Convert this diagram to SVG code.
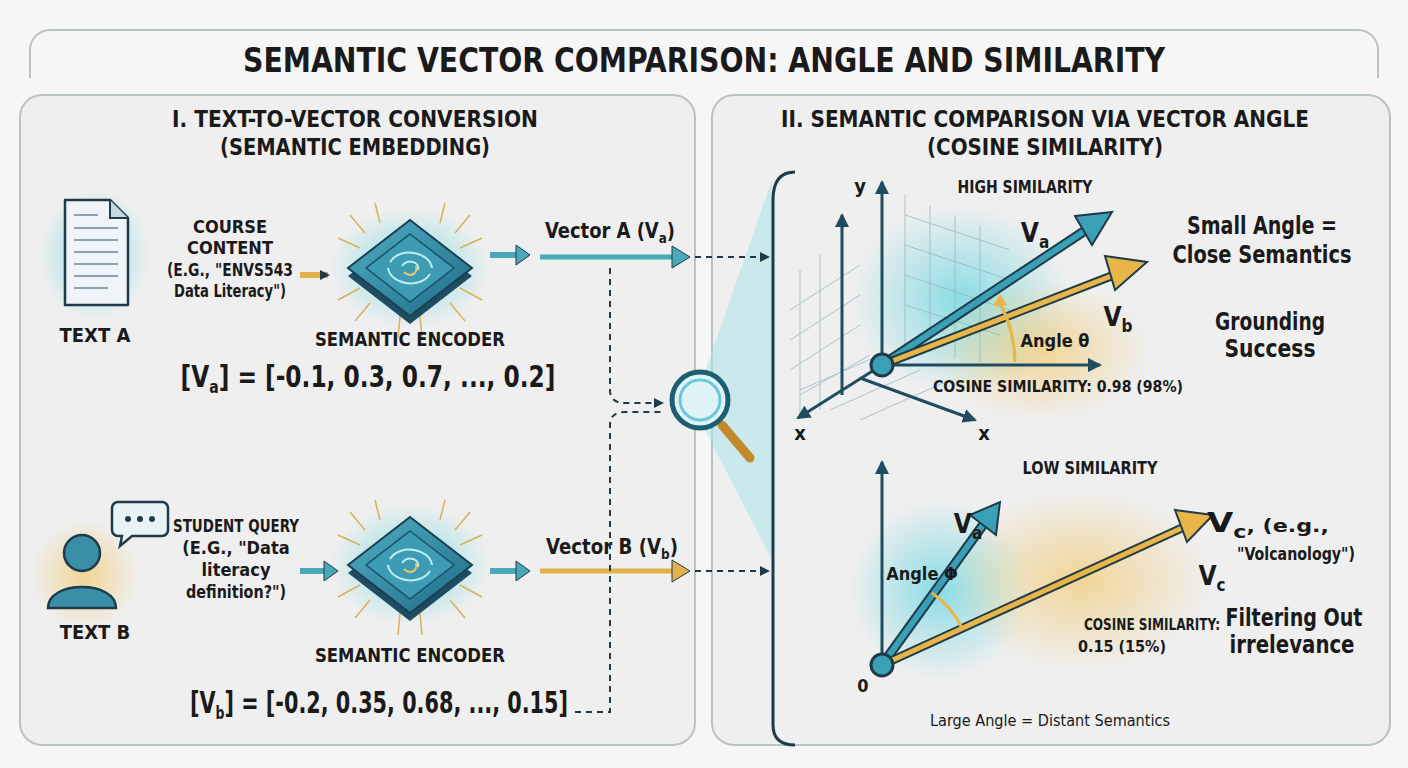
<svg xmlns="http://www.w3.org/2000/svg" width="1408" height="768" viewBox="0 0 1408 768">
<defs>
<style>
.t{font-family:"DejaVu Sans Condensed","Liberation Sans",sans-serif;font-weight:bold;fill:#1a1a1a;text-anchor:middle}
.n{font-family:"DejaVu Sans Condensed","Liberation Sans",sans-serif;fill:#1a1a1a;text-anchor:middle}
.panel{fill:#efefef;stroke:#b9c2c4;stroke-width:2}
.dash{fill:none;stroke:#1f3b4a;stroke-width:2;stroke-dasharray:6 5}
.ax{stroke:#1f4c5e;stroke-width:3;fill:none}
.grid{stroke:#8fb3bc;stroke-width:1;fill:none;opacity:.7}
</style>
<marker id="ah" markerWidth="10" markerHeight="10" refX="8" refY="5" orient="auto" markerUnits="userSpaceOnUse"><path d="M0,0 L10,5 L0,10 z" fill="#1f3b4a"/></marker>
<marker id="axh" markerWidth="16" markerHeight="14" refX="12" refY="7" orient="auto" markerUnits="userSpaceOnUse"><path d="M0,0 L14,7 L0,14 z" fill="#1f4c5e"/></marker>
<radialGradient id="gc"><stop offset="0" stop-color="#5fd4e0" stop-opacity=".7"/><stop offset="1" stop-color="#5fd4e0" stop-opacity="0"/></radialGradient>
<radialGradient id="gy"><stop offset="0" stop-color="#f2c45a" stop-opacity=".6"/><stop offset="1" stop-color="#f2c45a" stop-opacity="0"/></radialGradient>
<linearGradient id="chipTop" x1="0" y1="0" x2="1" y2="1"><stop offset="0" stop-color="#4fb0c4"/><stop offset="1" stop-color="#1f6a86"/></linearGradient>
<g id="chip">
<ellipse cx="0" cy="0" rx="80" ry="60" fill="url(#gc)"/>
<g stroke="#d6b25a" stroke-width="1.5" fill="none">
<path d="M-50,-20 l-22,-10 M-45,-35 l-15,-18 M-30,-45 l-5,-20 M30,-45 l5,-20 M45,-35 l15,-18 M50,-20 l22,-10 M-50,20 l-22,12 M-40,35 l-15,18 M40,35 l15,18 M50,20 l22,12 M-10,48 l-2,22 M10,48 l2,22"/>
</g>
<path d="M0,-48 L62,0 L0,48 L-62,0 z" transform="translate(0,8)" fill="#1d4c63"/>
<path d="M0,-48 L62,0 L0,48 L-62,0 z" fill="url(#chipTop)" stroke="#1a3f52" stroke-width="2"/>
<path d="M0,-34 L44,0 L0,34 L-44,0 z" fill="#3d9bb4" stroke="#1a4f66" stroke-width="1.5"/>
<g fill="none" stroke="#bfeef2" stroke-width="2"><path d="M-20,-6 C-10,-22 20,-16 22,0"/><path d="M20,6 C10,22 -20,16 -22,0"/><path d="M-8,-2 C-2,-10 10,-6 8,2"/></g>
<path d="M-6,4 C0,10 8,6 6,-2" fill="none" stroke="#e8c46a" stroke-width="2"/>
</g>
</defs>
<rect width="1408" height="768" fill="#f6f6f6"/>
<path d="M30,78 V50 a20,20 0 0 1 20,-20 H1358 a20,20 0 0 1 20,20 V78" fill="none" stroke="#b9c2c4" stroke-width="2"/>
<text class="t" x="704" y="72" font-size="34" textLength="922" lengthAdjust="spacingAndGlyphs">SEMANTIC VECTOR COMPARISON: ANGLE AND SIMILARITY</text>

<g id="left-panel">
<rect class="panel" x="20" y="95" width="675" height="650" rx="22"/>
<text class="t" x="355" y="127" font-size="23" textLength="366" lengthAdjust="spacingAndGlyphs">I. TEXT-TO-VECTOR CONVERSION</text>
<text class="t" x="355" y="155" font-size="23" textLength="270" lengthAdjust="spacingAndGlyphs">(SEMANTIC EMBEDDING)</text>
</g>
<g id="right-panel">
<rect class="panel" x="712" y="95" width="678" height="650" rx="22"/>
<text class="t" x="1045" y="127" font-size="23" textLength="528" lengthAdjust="spacingAndGlyphs">II. SEMANTIC COMPARISON VIA VECTOR ANGLE</text>
<text class="t" x="1045" y="155" font-size="23" textLength="236" lengthAdjust="spacingAndGlyphs">(COSINE SIMILARITY)</text>
</g>

<g id="text-a">
<ellipse cx="95" cy="255" rx="55" ry="65" fill="url(#gc)"/>
<path d="M65,200 H110 L128,218 V305 H65 z" fill="#eef4f7" stroke="#1f3b4a" stroke-width="2.5" stroke-linejoin="round"/>
<path d="M110,200 V218 H128" fill="#c5d6de" stroke="#1f3b4a" stroke-width="2"/>
<g stroke="#8aa3ae" stroke-width="2"><path d="M74,215 H98 M74,228 H118 M74,240 H118 M74,252 H118 M74,264 H118 M74,276 H118 M74,288 H108"/></g>
<text class="t" x="95" y="342" font-size="20">TEXT A</text>
</g>
<g id="course-content">
<text class="t" x="230" y="233" font-size="18">COURSE</text>
<text class="t" x="230" y="254" font-size="18">CONTENT</text>
<text class="t" x="230" y="276" font-size="18" textLength="126" lengthAdjust="spacingAndGlyphs">(E.G., "ENVS543</text>
<text class="t" x="230" y="297" font-size="18" textLength="112" lengthAdjust="spacingAndGlyphs">Data Literacy")</text>
</g>
<g id="encoder-a">
<use href="#chip" x="410" y="268"/>
<text class="t" x="410" y="346" font-size="20" textLength="190" lengthAdjust="spacingAndGlyphs">SEMANTIC ENCODER</text>
<text class="t" x="368" y="387" font-size="30" textLength="375" lengthAdjust="spacingAndGlyphs">[V<tspan font-size="18" dy="6">a</tspan><tspan dy="-6">] = [-0.1, 0.3, 0.7, ..., 0.2]</tspan></text>
</g>

<g id="text-b">
<ellipse cx="85" cy="575" rx="55" ry="55" fill="url(#gy)"/>
<circle cx="82" cy="553" r="18" fill="#3a8fa6" stroke="#1f3b4a" stroke-width="2.5"/>
<path d="M48,608 C48,580 116,580 116,608 Z" fill="#3a8fa6" stroke="#1f3b4a" stroke-width="2.5"/>
<path d="M118,502 H162 a6,6 0 0 1 6,6 V530 a6,6 0 0 1 -6,6 H132 L120,546 L122,536 H118 a6,6 0 0 1 -6,-6 V508 a6,6 0 0 1 6,-6 z" fill="#e9f3f6" stroke="#1f3b4a" stroke-width="2.5"/>
<circle cx="128" cy="519" r="3" fill="#1f3b4a"/><circle cx="140" cy="519" r="3" fill="#1f3b4a"/><circle cx="152" cy="519" r="3" fill="#1f3b4a"/>
<text class="t" x="95" y="639" font-size="20">TEXT B</text>
</g>
<g id="student-query">
<text class="t" x="236" y="532" font-size="18" textLength="126" lengthAdjust="spacingAndGlyphs">STUDENT QUERY</text>
<text class="t" x="236" y="554" font-size="18">(E.G., "Data</text>
<text class="t" x="236" y="576" font-size="18">literacy</text>
<text class="t" x="236" y="598" font-size="18" textLength="100" lengthAdjust="spacingAndGlyphs">definition?")</text>
</g>
<g id="encoder-b">
<use href="#chip" x="410" y="565"/>
<text class="t" x="410" y="662" font-size="20" textLength="190" lengthAdjust="spacingAndGlyphs">SEMANTIC ENCODER</text>
<text class="t" x="379" y="713" font-size="30" textLength="378" lengthAdjust="spacingAndGlyphs">[V<tspan font-size="18" dy="6">b</tspan><tspan dy="-6">] = [-0.2, 0.35, 0.68, ..., 0.15]</tspan></text>
</g>

<g id="vector-labels">
<text class="t" x="610" y="238" font-size="21" textLength="130" lengthAdjust="spacingAndGlyphs">Vector A (V<tspan font-size="14" dy="5">a</tspan><tspan dy="-5">)</tspan></text>
<text class="t" x="612" y="554" font-size="21" textLength="132" lengthAdjust="spacingAndGlyphs">Vector B (V<tspan font-size="14" dy="5">b</tspan><tspan dy="-5">)</tspan></text>
</g>

<g id="magnifier">
<polygon points="705,372 772,180 772,560 705,430" fill="#a9e3ea" opacity=".55"/>
<path d="M722,425 L750,458" stroke="#c48a2a" stroke-width="9" stroke-linecap="round"/>
<circle cx="700" cy="400" r="28" fill="#dff4f7" stroke="#1f5d73" stroke-width="5"/>
<circle cx="700" cy="400" r="20" fill="none" stroke="#6cc8d6" stroke-width="3"/>
</g>
<path id="bracket" d="M795,172 C778,172 773,185 773,200 V725 C773,738 780,745 795,745" fill="none" stroke="#1f3b4a" stroke-width="3"/>

<g id="connectors">
<path d="M300,275 H328" stroke="#e2b24a" stroke-width="6" marker-end="url(#ah)"/>
<path d="M490,255 H520" stroke="#4aa9b8" stroke-width="6"/><path d="M516,245 L530,255 L516,265 z" fill="#4aa9b8" stroke="#1f3b4a"/>
<path d="M300,571 H328" stroke="#4aa9b8" stroke-width="6"/><path d="M324,561 L338,571 L324,581 z" fill="#4aa9b8" stroke="#1f3b4a"/>
<path d="M490,571 H520" stroke="#4aa9b8" stroke-width="6"/><path d="M516,561 L530,571 L516,581 z" fill="#4aa9b8" stroke="#1f3b4a"/>
<path d="M540,257 H675" stroke="#4aa9b8" stroke-width="5"/><path d="M672,246 L690,257 L672,268 z" fill="#4aa9b8" stroke="#1f3b4a"/>
<path d="M540,571 H675" stroke="#e2b24a" stroke-width="5"/><path d="M672,560 L690,571 L672,582 z" fill="#e2b24a" stroke="#1f3b4a"/>
<path class="dash" d="M695,257 H768" marker-end="url(#ah)"/>
<path class="dash" d="M695,571 H768" marker-end="url(#ah)"/>
<path class="dash" d="M610,268 V390 Q610,403 625,403 H662" marker-end="url(#ah)"/>
<path class="dash" d="M575,712 H610 V425 Q610,412 625,412 H662"/>
</g>

<g id="high-graph">
<ellipse cx="960" cy="300" rx="110" ry="95" fill="url(#gc)"/>
<ellipse cx="1040" cy="350" rx="110" ry="70" fill="url(#gy)"/>
<g class="grid">
<path d="M905,195 V345 M930,205 V352 M955,215 V358 M980,225 V362 M905,215 L1010,250 M905,245 L1010,280 M905,275 L1010,310 M905,305 L1000,335"/>
<path d="M790,310 L860,265 M790,340 L860,295 M790,370 L860,325 M800,395 L870,355 M820,255 V410 M800,270 V415"/>
<path d="M830,410 L920,370 M860,420 L950,380 M800,390 L880,355"/>
</g>
<path class="ax" d="M882,365 V182" marker-end="url(#axh)"/>
<path class="ax" d="M842,395 V215" stroke-width="2" marker-end="url(#axh)"/>
<path class="ax" d="M882,365 H1100" marker-end="url(#axh)"/>
<path class="ax" d="M882,365 L798,418" stroke-width="2.5" marker-end="url(#axh)"/>
<path class="ax" d="M860,378 L975,420" stroke-width="2.5" marker-end="url(#axh)"/>
<text class="t" x="860" y="193" font-size="20">y</text>
<text class="t" x="800" y="440" font-size="20">x</text>
<text class="t" x="984" y="440" font-size="20">x</text>
<text class="t" x="1025" y="193" font-size="18" textLength="135" lengthAdjust="spacingAndGlyphs">HIGH SIMILARITY</text>
<path d="M882,365 L1098,222" stroke="#1f3b4a" stroke-width="10"/>
<path d="M882,365 L1098,222" stroke="#3aa0b6" stroke-width="6"/>
<path d="M1075,216 L1112,212 L1092,245 z" fill="#3aa0b6" stroke="#1f3b4a" stroke-width="2"/>
<path d="M882,365 L1132,268" stroke="#1f3b4a" stroke-width="9"/>
<path d="M882,365 L1132,268" stroke="#e8b548" stroke-width="5"/>
<path d="M1105,256 L1147,262 L1115,290 z" fill="#e8b548" stroke="#1f3b4a" stroke-width="2"/>
<path d="M1015,362 A133,133 0 0 0 1000,303" fill="none" stroke="#e8b548" stroke-width="3"/>
<path d="M993,306 L1000,294 L1007,305 z" fill="#e8b548"/>
<circle cx="882" cy="365" r="11" fill="#3aa0b6" stroke="#1f3b4a" stroke-width="3"/>
<text class="t" x="1035" y="242" font-size="26">V<tspan font-size="17" dy="6">a</tspan></text>
<text class="t" x="1118" y="326" font-size="26">V<tspan font-size="17" dy="6">b</tspan></text>
<text class="t" x="1055" y="347" font-size="18" font-weight="normal">Angle θ</text>
<text class="t" x="1058" y="392" font-size="16" textLength="250" lengthAdjust="spacingAndGlyphs">COSINE SIMILARITY: 0.98 (98%)</text>
<text class="t" x="1262" y="234" font-size="24" textLength="150" lengthAdjust="spacingAndGlyphs">Small Angle =</text>
<text class="t" x="1262" y="263" font-size="24" textLength="179" lengthAdjust="spacingAndGlyphs">Close Semantics</text>
<text class="t" x="1270" y="330" font-size="24" textLength="110" lengthAdjust="spacingAndGlyphs">Grounding</text>
<text class="t" x="1270" y="357" font-size="24" textLength="91" lengthAdjust="spacingAndGlyphs">Success</text>
</g>

<g id="low-graph">
<ellipse cx="940" cy="590" rx="90" ry="90" fill="url(#gc)"/>
<ellipse cx="1080" cy="580" rx="130" ry="90" fill="url(#gy)"/>
<path class="ax" d="M882,665 V462" marker-end="url(#axh)"/>
<text class="t" x="1090" y="474" font-size="18" textLength="135" lengthAdjust="spacingAndGlyphs">LOW SIMILARITY</text>
<path d="M882,665 L988,518" stroke="#1f3b4a" stroke-width="10"/>
<path d="M882,665 L988,518" stroke="#3aa0b6" stroke-width="6"/>
<path d="M970,515 L1000,502 L996,535 z" fill="#3aa0b6" stroke="#1f3b4a" stroke-width="2"/>
<path d="M882,665 L1195,522" stroke="#1f3b4a" stroke-width="9"/>
<path d="M882,665 L1195,522" stroke="#e8b548" stroke-width="5"/>
<path d="M1175,510 L1213,515 L1187,542 z" fill="#e8b548" stroke="#1f3b4a" stroke-width="2"/>
<path d="M962,628 A88,88 0 0 0 932,593" fill="none" stroke="#e8b548" stroke-width="3"/>
<circle cx="882" cy="665" r="11" fill="#3aa0b6" stroke="#1f3b4a" stroke-width="3"/>
<text class="t" x="863" y="692" font-size="18">0</text>
<text class="t" x="968" y="533" font-size="26">V<tspan font-size="17" dy="6">a</tspan></text>
<text class="t" x="1212" y="585" font-size="26">V<tspan font-size="17" dy="6">c</tspan></text>
<text class="t" x="1268" y="532" font-size="17" font-weight="normal" textLength="122" lengthAdjust="spacingAndGlyphs"><tspan font-size="26" font-weight="bold">V</tspan><tspan font-size="17" dy="6" font-weight="bold">c</tspan><tspan dy="-6">, (e.g.,</tspan></text>
<text class="t" x="1296" y="560" font-size="17" font-weight="normal" textLength="118" lengthAdjust="spacingAndGlyphs">"Volcanology")</text>
<text class="t" x="922" y="580" font-size="18" font-weight="normal">Angle Φ</text>
<text class="t" x="1152" y="630" font-size="16" textLength="136" lengthAdjust="spacingAndGlyphs">COSINE SIMILARITY:</text>
<text class="t" x="1122" y="652" font-size="16" font-weight="normal">0.15 (15%)</text>
<text class="t" x="1294" y="626" font-size="24" textLength="137" lengthAdjust="spacingAndGlyphs">Filtering Out</text>
<text class="t" x="1292" y="653" font-size="24" textLength="125" lengthAdjust="spacingAndGlyphs">irrelevance</text>
<text class="n" x="1050" y="726" font-size="15" textLength="240" lengthAdjust="spacingAndGlyphs">Large Angle = Distant Semantics</text>
</g>
</svg>
